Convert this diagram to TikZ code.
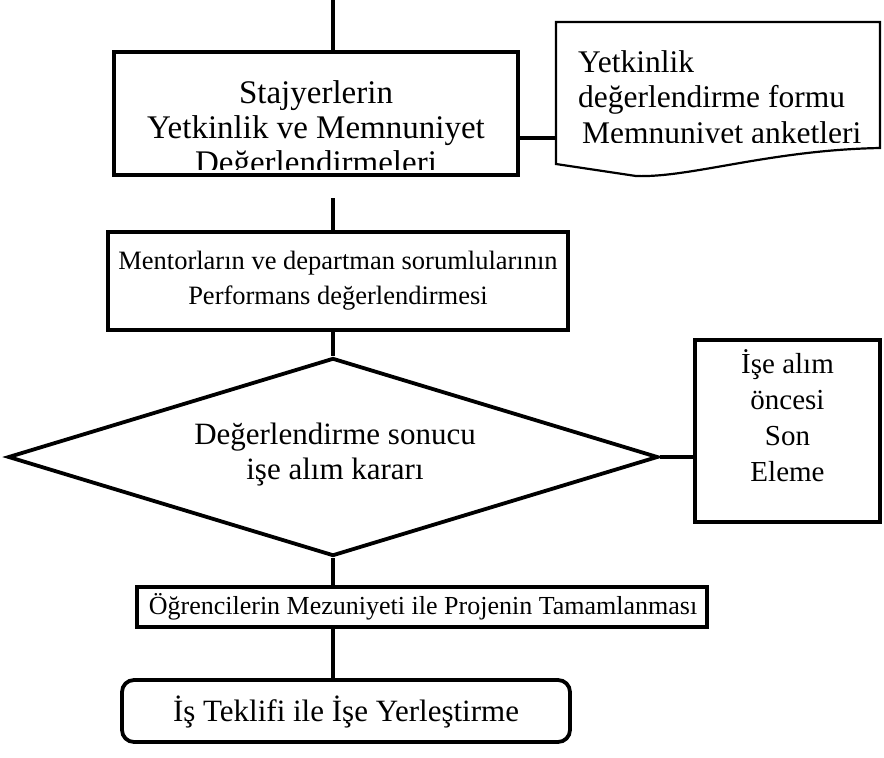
\documentclass[tikz,border=0pt]{standalone}
\usepackage{fontspec}
\setmainfont{Liberation Serif}
\usetikzlibrary{shapes.geometric}
\begin{document}
\begin{tikzpicture}[x=1pt,y=-1pt,
  box/.style={draw, line width=3.8pt, inner sep=0pt},
  conn/.style={line width=4.5pt},
  txt/.style={align=center, inner sep=0pt},
  fbig/.style={font=\fontsize{33}{35}\selectfont},
  fdoc/.style={font=\fontsize{31.5}{35.5}\selectfont},
  fmid/.style={font=\fontsize{31}{35}\selectfont},
  fsmall/.style={font=\fontsize{26.5}{35}\selectfont},
  fside/.style={font=\fontsize{29}{36}\selectfont}]
\useasboundingbox (0,0) rectangle (884,758);
% shapes
\node[box, minimum width=404pt, minimum height=123pt] (b1) at (316,113.5) {};
\node[box, minimum width=460pt, minimum height=98pt] (b2) at (338,281) {};
\node[box, shape=diamond, minimum width=650pt, minimum height=198pt] (dia) at (333,457) {};
\node[box, minimum width=185pt, minimum height=182pt] (side) at (787.5,431) {};
\node[box, minimum width=570pt, minimum height=40pt] (b3) at (422,607) {};
\node[box, rounded corners=12pt, minimum width=448pt, minimum height=62pt] (rb) at (346,711) {};
% document shape
\draw[line width=2.2pt, fill=white] (556,22) -- (880,22) -- (880,148)
  .. controls (770,150) and (690,178) .. (636,176)
  -- (556,164) -- cycle;
\coordinate (docL) at (556,138);
% texts
\begin{scope}
\clip (116,56) rectangle (516,169);
\node[txt, fbig] (t1) at (316,131) {Stajyerlerin\\Yetkinlik ve Memnuniyet\\Değerlendirmeleri};
\end{scope}
\begin{scope}
\clip (558,24) rectangle (878,142);
\node[txt, fdoc, align=left, anchor=north west] (td) at (578,50) {Yetkinlik\\değerlendirme formu\\\hspace*{4pt}Memnuniyet anketleri};
\end{scope}
\node[txt, fsmall] (t2) at (338,281) {Mentorların ve departman sorumlularının\\Performans değerlendirmesi};
\node[txt, fmid] (t3) at (335,455) {Değerlendirme sonucu\\işe alım kararı};
\node[txt, fside] (t4) at (787.5,416) {İşe alım\\öncesi\\Son\\Eleme};
\node[txt, font=\fontsize{26}{35}\selectfont] (t5) at (423,607) {Öğrencilerin Mezuniyeti ile Projenin Tamamlanması};
\node[txt, fmid] (t6) at (346,712) {İş Teklifi ile İşe Yerleştirme};
% connectors
\coordinate (top) at (333,0);
\coordinate (mid) at (333,198);
\draw[conn] (top) -- (top |- b1.north);
\draw[conn] (mid) -- (mid |- b2.north);
\draw[conn] (b2.south -| dia.north) -- (dia.north);
\draw[conn] (dia.south) -- (dia.south |- b3.north);
\draw[conn] (b3.south -| dia.south) -- (dia.south |- rb.north);
\draw[conn] (b1.east |- docL) -- (docL);
\draw[conn] (dia.east) -- (dia.east -| side.west);
\end{tikzpicture}
\end{document}
